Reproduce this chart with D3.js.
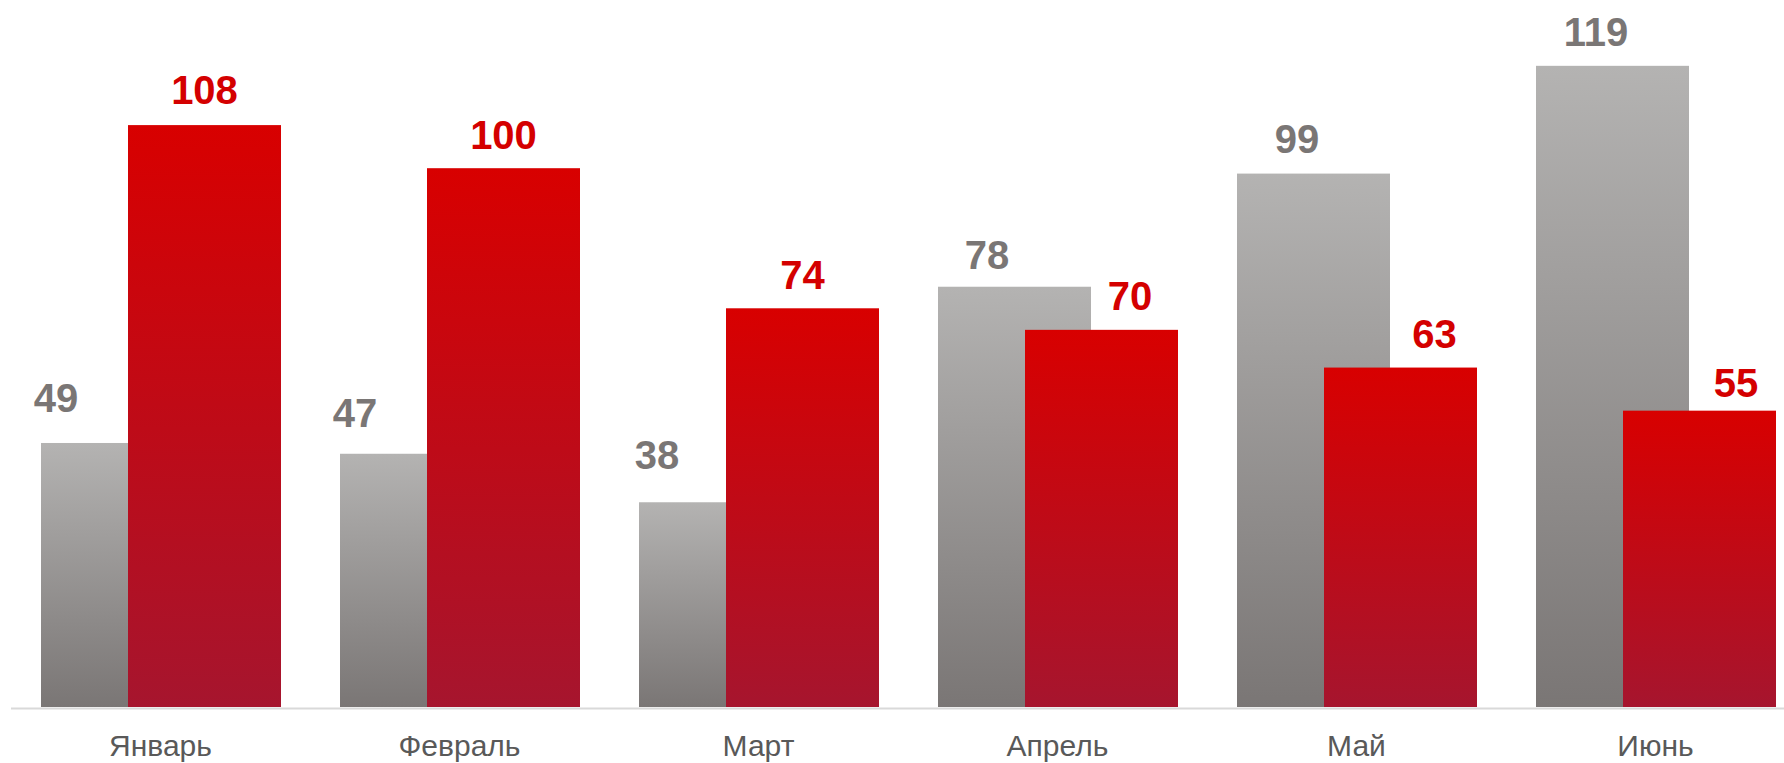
<!DOCTYPE html>
<html>
<head>
<meta charset="utf-8">
<script src="https://cdn.jsdelivr.net/npm/d3@7"></script>
<style>
  html, body { margin: 0; padding: 0; background: #ffffff; overflow: hidden; }
  svg { display: block; }
</style>
</head>
<body>
<svg id="chart" width="1784" height="763"></svg>
<script>
// ---- data ----
const categories = ["Январь", "Февраль", "Март", "Апрель", "Май", "Июнь"];
const seriesGray = [49, 47, 38, 78, 99, 119];
const seriesRed = [108, 100, 74, 70, 63, 55];

// ---- layout (label nudges) ----
const grayLabelDx = [-61.5, -61.5, -58.5, -27.5, -16.5, -16.5];
const grayLabelGap = [31, 27, 33, 18, 21, 20];
const redLabelDx = [0, 0, 0, 28.5, 34, 36.5];
const redLabelGap = [21, 19, 19, 20, 20, 14];

const W = 1784, H = 763;
const baseY = 707;
const plotLeft = 11, step = 299;
const barW = 153, grayInset = 30, redInset = 117;

const svg = d3.select("#chart");
const defs = svg.append("defs");

function grad(id, top, bottom) {
  const g = defs.append("linearGradient").attr("id", id)
    .attr("x1", 0).attr("y1", 0).attr("x2", 0).attr("y2", 1);
  g.append("stop").attr("offset", "0%").attr("stop-color", top);
  g.append("stop").attr("offset", "100%").attr("stop-color", bottom);
}
grad("gGray", "#b4b3b2", "#7a7675");
grad("gRed", "#d80000", "#a6152e");

const x = d3.scaleBand().domain(categories)
  .range([plotLeft, plotLeft + step * categories.length]).padding(0);
const y = d3.scaleLinear().domain([0, 120]).range([baseY, baseY - 120 * 5.388]);

// gray bars
svg.append("g").selectAll("rect").data(seriesGray).join("rect")
  .attr("x", (d, i) => x(categories[i]) + grayInset)
  .attr("y", d => y(d))
  .attr("width", barW)
  .attr("height", d => baseY - y(d))
  .attr("fill", "url(#gGray)");

// red bars
svg.append("g").selectAll("rect").data(seriesRed).join("rect")
  .attr("x", (d, i) => x(categories[i]) + redInset)
  .attr("y", d => y(d))
  .attr("width", barW)
  .attr("height", d => baseY - y(d))
  .attr("fill", "url(#gRed)");

// axis line
svg.append("line")
  .attr("x1", plotLeft).attr("x2", W)
  .attr("y1", baseY + 1.5).attr("y2", baseY + 1.5)
  .attr("stroke", "#d9d9d9").attr("stroke-width", 2);

// category labels
svg.append("g").selectAll("text").data(categories).join("text")
  .attr("x", d => x(d) + x.bandwidth() / 2)
  .attr("y", 756)
  .attr("text-anchor", "middle")
  .attr("font-family", "Liberation Sans, Arial, sans-serif")
  .attr("font-size", 30)
  .attr("fill", "#595959")
  .text(d => d);

// value labels
svg.append("g").selectAll("text").data(seriesGray).join("text")
  .attr("x", (d, i) => x(categories[i]) + grayInset + barW / 2 + grayLabelDx[i])
  .attr("y", (d, i) => y(d) - grayLabelGap[i])
  .attr("text-anchor", "middle")
  .attr("font-family", "Liberation Sans, Arial, sans-serif")
  .attr("font-weight", "bold")
  .attr("font-size", 40)
  .attr("fill", "#7a7675")
  .text(d => d);

svg.append("g").selectAll("text").data(seriesRed).join("text")
  .attr("x", (d, i) => x(categories[i]) + redInset + barW / 2 + redLabelDx[i])
  .attr("y", (d, i) => y(d) - redLabelGap[i])
  .attr("text-anchor", "middle")
  .attr("font-family", "Liberation Sans, Arial, sans-serif")
  .attr("font-weight", "bold")
  .attr("font-size", 40)
  .attr("fill", "#d40000")
  .text(d => d);
</script>
</body>
</html>
